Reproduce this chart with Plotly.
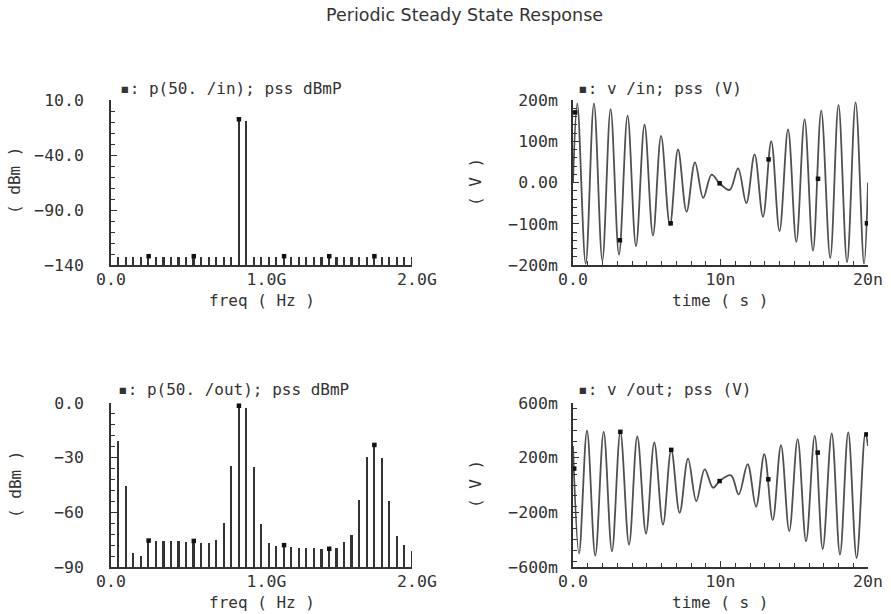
import plotly.graph_objects as go

# ---------------- data ----------------
freq_ghz = [0.05, 0.10, 0.15, 0.20, 0.25, 0.30, 0.35, 0.40, 0.45, 0.50,
            0.55, 0.60, 0.65, 0.70, 0.75, 0.80, 0.85, 0.90, 0.95, 1.00,
            1.05, 1.10, 1.15, 1.20, 1.25, 1.30, 1.35, 1.40, 1.45, 1.50,
            1.55, 1.60, 1.65, 1.70, 1.75, 1.80, 1.85, 1.90, 1.95, 2.00]

in_dbm = [-133, -133, -133, -133, -132, -133, -133, -133, -133, -133,
          -132, -133, -133, -133, -133, -133, -7.5, -9.5, -133, -133,
          -133, -133, -132, -133, -133, -133, -133, -133, -132, -133,
          -133, -133, -133, -133, -132, -133, -133, -133, -133, -133]

out_dbm = [-20.6, -45.6, -82.3, -83.8, -75.5, -75.7, -75.7, -75.9, -75.9, -76.3,
           -75.7, -76.8, -76.8, -75.1, -65.8, -34.3, -1.5, -2.8, -34.9, -66.5,
           -77.1, -78.3, -78.0, -79.0, -79.5, -79.5, -79.5, -80.3, -80.0, -79.5,
           -76.5, -72.6, -53.3, -29.8, -23.0, -30.0, -54.0, -73.0, -78.0, -81.4]

spec_marker_freqs = [0.25, 0.55, 0.85, 1.15, 1.45, 1.75]

in_t_ns = [0.0, 0.29, 0.86, 1.42, 1.99, 2.55, 3.12, 3.70, 4.27, 4.85, 5.42, 5.97,
           6.57, 7.12, 7.70, 8.27, 8.83, 9.40, 9.94, 10.62, 11.19, 11.75, 12.31,
           12.88, 13.44, 14.00, 14.58, 15.14, 15.70, 16.27, 16.83, 17.44, 18.00,
           18.58, 19.16, 19.73, 20.0]
in_v = [0.0, 0.192, -0.197, 0.192, -0.189, 0.178, -0.175, 0.162, -0.154, 0.140,
        -0.128, 0.113, -0.104, 0.080, -0.071, 0.049, -0.037, 0.019, -0.002, -0.018,
        0.034, -0.050, 0.068, -0.083, 0.100, -0.118, 0.129, -0.144, 0.153, -0.165,
        0.174, -0.183, 0.188, -0.193, 0.194, -0.197, 0.0]
in_marker_t = [0.15, 3.18, 6.62, 9.94, 13.26, 16.61, 19.93]
in_marker_v = [0.17, -0.140, -0.099, -0.002, 0.056, 0.009, -0.099]

out_t_ns = [0.0, 0.41, 0.95, 1.51, 2.08, 2.64, 3.21, 3.80, 4.36, 4.95, 5.51, 6.10,
            6.66, 7.23, 7.80, 8.36, 8.93, 9.49, 9.94, 10.71, 11.23, 11.84, 12.41,
            12.97, 13.54, 14.10, 14.66, 15.23, 15.80, 16.39, 16.93, 17.54, 18.10,
            18.66, 19.23, 19.82, 20.0]
out_v = [0.286, -0.50, 0.397, -0.517, 0.389, -0.485, 0.389, -0.436, 0.355, -0.355,
         0.311, -0.289, 0.257, -0.203, 0.193, -0.118, 0.115, -0.020, 0.029, 0.071,
         -0.069, 0.152, -0.159, 0.225, -0.257, 0.291, -0.338, 0.335, -0.411, 0.360,
         -0.468, 0.377, -0.509, 0.384, -0.534, 0.380, 0.286]
out_marker_t = [0.08, 3.21, 6.66, 9.94, 13.24, 16.59, 19.90]
out_marker_v = [0.12, 0.389, 0.257, 0.029, 0.042, 0.237, 0.37]

freq_tickvals = [0, 1, 2]
freq_ticktext = ["0.0", "\u00a01.0G", "\u00a02.0G"]
time_tickvals = [0, 10, 20]
time_ticktext = ["0.0", "10n", "20n"]
in_db_tickvals = [10, -40, -90, -140]
in_db_ticktext = ["10.0", "\u221240.0", "\u221290.0", "\u2212140"]
out_db_tickvals = [0, -30, -60, -90]
out_db_ticktext = ["0.0", "\u221230", "\u221260", "\u221290"]
in_v_tickvals = [0.2, 0.1, 0.0, -0.1, -0.2]
in_v_ticktext = ["200m", "100m", "0.00", "\u2212100m", "\u2212200m"]
out_v_tickvals = [0.6, 0.2, -0.2, -0.6]
out_v_ticktext = ["600m", "200m", "\u2212200m", "\u2212600m"]

# ---------------- figure ----------------
W, H = 891, 614
INK = "#333333"
LINE = "#505050"
MONO = "DejaVu Sans Mono"
SANS = "DejaVu Sans"

def px_x(p):
    return p / W

def px_y(p):
    return 1 - p / H

IN_FLOOR = -140
OUT_FLOOR = -90

fig = go.Figure()

mk = dict(symbol="square", size=4.5, color="#111")

# top-left spectrum
fig.add_trace(go.Bar(x=freq_ghz, y=[v - IN_FLOOR for v in in_dbm], base=IN_FLOOR,
                     width=0.011, marker=dict(color=INK, line=dict(width=0)),
                     xaxis="x", yaxis="y"))
fig.add_trace(go.Scatter(x=spec_marker_freqs,
                         y=[in_dbm[freq_ghz.index(f)] for f in spec_marker_freqs],
                         mode="markers", marker=mk, xaxis="x", yaxis="y"))
# bottom-left spectrum
fig.add_trace(go.Bar(x=freq_ghz, y=[v - OUT_FLOOR for v in out_dbm], base=OUT_FLOOR,
                     width=0.011, marker=dict(color=INK, line=dict(width=0)),
                     xaxis="x3", yaxis="y3"))
fig.add_trace(go.Scatter(x=spec_marker_freqs,
                         y=[out_dbm[freq_ghz.index(f)] for f in spec_marker_freqs],
                         mode="markers", marker=mk, xaxis="x3", yaxis="y3"))
# top-right waveform
fig.add_trace(go.Scatter(x=in_t_ns, y=in_v, mode="lines",
                         line=dict(color=LINE, width=1.8, shape="spline", smoothing=1.0),
                         xaxis="x2", yaxis="y2"))
fig.add_trace(go.Scatter(x=in_marker_t, y=in_marker_v, mode="markers",
                         marker=mk, xaxis="x2", yaxis="y2"))
# bottom-right waveform
fig.add_trace(go.Scatter(x=out_t_ns, y=out_v, mode="lines",
                         line=dict(color=LINE, width=1.8, shape="spline", smoothing=1.0),
                         xaxis="x4", yaxis="y4"))
fig.add_trace(go.Scatter(x=out_marker_t, y=out_marker_v, mode="markers",
                         marker=mk, xaxis="x4", yaxis="y4"))

left_dom = [px_x(111), px_x(412)]
right_dom = [px_x(573), px_x(868)]
top_dom = [px_y(265), px_y(100)]
bot_dom = [px_y(567), px_y(403)]

tickfont = dict(family=MONO, size=16.5, color=INK)

def xax(dom, anchor, rng, tv, tt, minor_dtick=None):
    d = dict(domain=dom, anchor=anchor, range=rng, tickmode="array", tickvals=tv, ticktext=tt,
             showline=True, linecolor=INK, linewidth=1.5, showgrid=False, zeroline=False,
             ticks="inside", ticklen=6, tickwidth=1.2, tickcolor=INK, tickfont=tickfont,
             ticklabelstandoff=-2, automargin=False, fixedrange=True)
    if minor_dtick:
        d["minor"] = dict(ticks="inside", tickmode="linear", tick0=0, dtick=minor_dtick,
                          ticklen=4, tickwidth=1, tickcolor=INK, showgrid=False)
    return d

def yax(dom, anchor, rng, tv, tt, minor_dtick, standoff):
    return dict(domain=dom, anchor=anchor, range=rng, tickmode="array", tickvals=tv, ticktext=tt,
                showline=True, linecolor=INK, linewidth=1.5, showgrid=False, zeroline=False,
                ticks="inside", ticklen=6, tickwidth=1.2, tickcolor=INK, tickfont=tickfont,
                ticklabelstandoff=standoff, automargin=False, fixedrange=True,
                minor=dict(ticks="inside", tickmode="linear", tick0=0, dtick=minor_dtick,
                           ticklen=4, tickwidth=1, tickcolor=INK, showgrid=False))

fig.update_layout(
    width=W, height=H,
    margin=dict(l=0, r=0, t=0, b=0),
    paper_bgcolor="white", plot_bgcolor="white",
    showlegend=False, hovermode=False, bargap=0,
    xaxis=xax(left_dom, "y", [0, 2.0], freq_tickvals, freq_ticktext),
    yaxis=yax(top_dom, "x", [-140, 10], in_db_tickvals, in_db_ticktext, 10, 22),
    xaxis2=xax(right_dom, "y2", [0, 20], time_tickvals, time_ticktext, 1),
    yaxis2=yax(top_dom, "x2", [-0.2, 0.2], in_v_tickvals, in_v_ticktext, 0.02, 10),
    xaxis3=xax(left_dom, "y3", [0, 2.0], freq_tickvals, freq_ticktext),
    yaxis3=yax(bot_dom, "x3", [-90, 0], out_db_tickvals, out_db_ticktext, 6, 22),
    xaxis4=xax(right_dom, "y4", [0, 20], time_tickvals, time_ticktext, 1),
    yaxis4=yax(bot_dom, "x4", [-0.6, 0.6], out_v_tickvals, out_v_ticktext, 0.08, 10),
)

ann = []
def text(x, y, s, size=16, family=MONO, angle=0, xanchor="center"):
    ann.append(dict(x=px_x(x), y=px_y(y), xref="paper", yref="paper", text=s, showarrow=False,
                    xanchor=xanchor, yanchor="middle", textangle=angle,
                    font=dict(family=family, size=size, color=INK)))

text(465, 15, "Periodic Steady State Response", size=17.5, family=SANS)
text(118, 88, "\u25aa: p(50. /in); pss dBmP", xanchor="left")
text(576, 88, "\u25aa: v /in; pss (V)", xanchor="left")
text(116, 390, "\u25aa: p(50. /out); pss dBmP", xanchor="left")
text(576, 390, "\u25aa: v /out; pss (V)", xanchor="left")
text(262, 300, "freq ( Hz )")
text(262, 602, "freq ( Hz )")
text(720, 300, "time ( s )")
text(720, 602, "time ( s )")
text(14, 181, "( dBm )", angle=-90)
text(15, 485, "( dBm )", angle=-90)
text(475, 182, "( V )", angle=-90)
text(475, 484, "( V )", angle=-90)
fig.update_layout(annotations=ann)

fig.write_html("out.html", config={"displayModeBar": False},
               post_script="document.body.style.margin='0px';document.body.style.padding='0px';")
